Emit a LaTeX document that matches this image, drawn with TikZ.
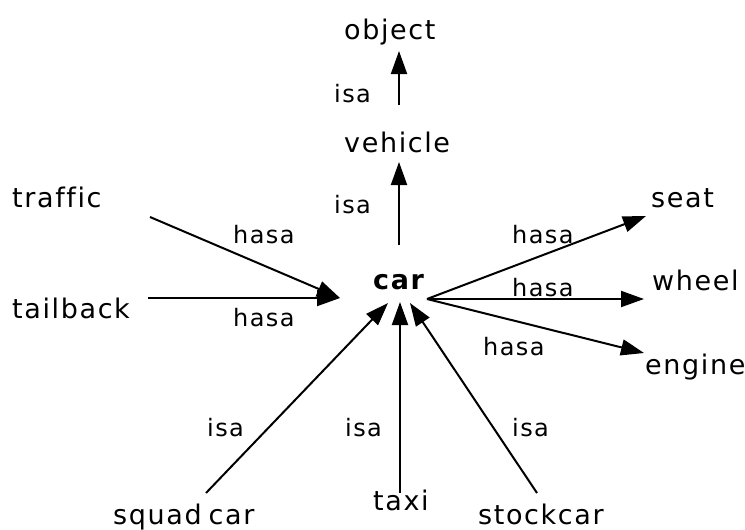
\documentclass[tikz,border=0pt]{standalone}
\usepackage{fontspec}
\setmainfont{DejaVu Sans}[LetterSpace=6, Ligatures=NoCommon]
\usetikzlibrary{arrows.meta}

\begin{document}
\begin{tikzpicture}[x=1pt, y=-1pt,
  concept/.style={font=\fontsize{27}{27}\selectfont, inner sep=0pt, anchor=base west},
  relname/.style={font=\fontsize{24}{24}\selectfont, inner sep=0pt, anchor=base west},
  link/.style={line width=2pt, -{Triangle[length=23pt, width=16pt]}},
]
\useasboundingbox (0,0) rectangle (745,530);

% concepts
\node[concept] (object)   at (344, 39)  {object};
\node[concept] (vehicle)  at (344, 152) {vehicle};
\node[concept, font=\fontsize{27}{27}\selectfont\bfseries] (car) at (373, 289) {car};
\node[concept] (traffic)  at (12, 207)  {traffic};
\node[concept] (tailback) at (12, 318)  {tailback};
\node[concept] (seat)     at (651, 207) {seat};
\node[concept] (wheel)    at (652, 290) {wheel};
\node[concept] (engine)   at (645, 374) {engine};
\node[concept] (squad)    at (113, 524) {squad\hspace{7pt}car};
\node[concept] (taxi)     at (373, 510) {taxi};
\node[concept] (stock)    at (478, 524) {stockcar};

% connector ends around each concept
\coordinate (object-in)   at (399, 51);
\coordinate (vehicle-out) at (399, 105);
\coordinate (vehicle-in)  at (399, 162);
\coordinate (car-top)     at (399, 245);
\coordinate (car-west)    at (340, 298);
\coordinate (car-east)    at (427, 299);
\coordinate (car-sw)      at (388, 303);
\coordinate (car-s)       at (400, 302);
\coordinate (car-se)      at (410, 303);
\coordinate (traffic-out) at (150, 217);
\coordinate (tailback-out) at (148, 298);
\coordinate (seat-in)     at (646, 216);
\coordinate (wheel-in)    at (644, 299);
\coordinate (engine-in)   at (644, 353);
\coordinate (squad-out)   at (206, 493);
\coordinate (taxi-out)    at (400, 493);
\coordinate (stock-out)   at (537, 493);

% isa links
\draw[link] (vehicle-out) -- (object-in);
\draw[link] (car-top) -- (vehicle-in);
\draw[link] (squad-out) -- (car-sw);
\draw[link] (taxi-out) -- (car-s);
\draw[link] (stock-out) -- (car-se);

% hasa links
\draw[link] (traffic-out) -- (car-west);
\draw[link] (tailback-out) -- (car-west);
\draw[link] (car-east) -- (seat-in);
\draw[link] (car-east) -- (wheel-in);
\draw[link] (car-east) -- (engine-in);

% link labels
\node[relname] (isa1) at (334, 102) {isa};
\node[relname] (isa2) at (334, 213) {isa};
\node[relname] (isa3) at (207, 436) {isa};
\node[relname] (isa4) at (345, 436) {isa};
\node[relname] (isa5) at (512, 436) {isa};
\node[relname] (hasa1) at (233, 243) {hasa};
\node[relname] (hasa2) at (233, 326) {hasa};
\node[relname] (hasa3) at (512, 243) {hasa};
\node[relname] (hasa4) at (512, 296) {hasa};
\node[relname] (hasa5) at (483, 355) {hasa};
\end{tikzpicture}
\end{document}
